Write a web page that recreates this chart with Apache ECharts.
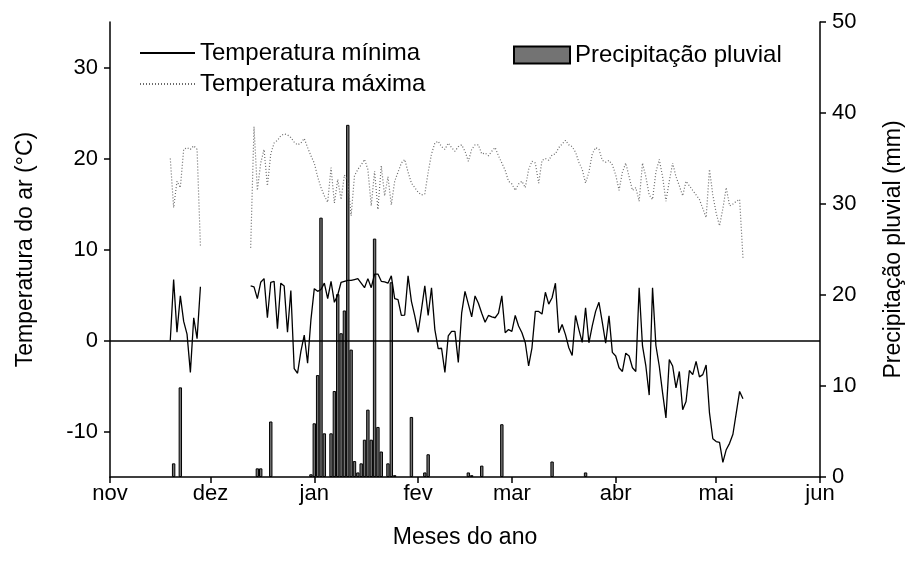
<!DOCTYPE html>
<html lang="pt">
<head>
    <meta charset="UTF-8"/>
    <title>Temperatura e precipitação</title>
    <style>
        * { margin: 0; padding: 0; }
        body { background: #fff; }
        #chart { width: 915px; height: 568px; }
    </style>
    <script src="https://cdn.jsdelivr.net/npm/echarts@6/dist/echarts.min.js"></script>
</head>
<body>
<div id="chart"></div>
<script>
    // dia 0 = 1 de novembro
    const monthStarts = [0, 30, 61, 92, 120, 151, 181, 212];
    const monthNames = ["nov", "dez", "jan", "fev", "mar", "abr", "mai", "jun"];
    const tempTicks = [-10, 0, 10, 20, 30];
    const rainTicks = [0, 10, 20, 30, 40, 50];

    const firstDay = 18;
    // temperatura mínima (°C), um valor por dia a partir de firstDay; null = sem dado
    const tMin = [
        0, 6.7, 0.9, 4.9, 2.1, 0.7, -3.5, 2.5, 0.2, 5.9,
        null, null, null, null, null, null, null, null, null, null, null, null, null, null,
        6.0, 5.9, 4.6, 6.4, 6.8, 2.5, 6.4, 6.5, 1.3, 6.3,
        6.0, 0.9, 5.5, -3.1, -3.6, -1.2, 0.6, -2.5, 2.3, 5.7,
        5.4, 5.6, 6.3, 4.6, 6.5, 4.2, 5.0, 6.4, 6.5, 6.6,
        6.6, 6.7, 6.8, 6.3, 5.8, 6.8, 5.8, 7.3, 7.3, 6.5,
        6.45, 6.3, 7.1, 4.6, 4.5, 2.75, 2.8, 7.1, 4.3, 2.7,
        0.9, 3.4, 6.0, 2.75, 5.8, 1.2, -0.9, -0.85, -3.5, 0.5,
        1.0, 1.0, -2.4, 3.0, 5.4, 4.0, 2.6, 4.9, 4.1, 3.0,
        2.0, 2.75, 2.6, 2.5, 3.0, 4.9, 0.85, 1.2, 1.0, 2.75,
        1.6, 0.85, -0.25, -2.8, -0.8, 3.2, 3.2, 2.9, 5.3, 4.0,
        4.7, 6.3, 0.85, 1.75, 0.65, -0.8, -1.65, 2.75, 1.2, -0.2,
        3.6, -0.25, 1.6, 3.2, 4.2, 2.0, -0.3, 2.7, -1.3, -1.7,
        -3.0, -3.4, -1.4, -1.7, -3.0, -3.4, 5.8, -0.6, -2.8, -6.0,
        5.8, -0.55, -2.8, -5.75, -8.5, -2.1, -2.8, -5.2, -3.4, -7.6,
        -6.7, -3.3, -3.75, -2.3, -4.0, -3.75, -2.7, -7.95, -10.8, -11.1,
        -11.2, -13.4, -12.0, -11.3, -10.3, -7.95, -5.6, -6.4
    ];
    // temperatura máxima (°C)
    const tMax = [
        20, 14.6, 17.5, 16.8, 21, 21.2, 21, 21.4, 21, 10.4,
        null, null, null, null, null, null, null, null, null, null, null, null, null, null,
        10.2, 23.5, 16.5, 19.5, 21, 17, 20.5, 21.7, 22, 22.5,
        22.7, 22.6, 22.3, 21.8, 21.5, 21.7, 22.2, 21.2, 20.3, 19.5,
        18.0, 16.8, 15.9, 15.2, 19.0, 15.1, 17.7, 15.5, 18.2, 17.5,
        13.7, 18.1, 18.8, 19.3, 19.9, 18.8, 14.8, 18.6, 14.4, 19.2,
        15.9, 18.0, 14.9, 17.5, 18.5, 19.5, 19.9, 18.5, 17.3, 16.8,
        16.3, 16.0, 16.1, 18.5, 20.5, 21.7, 21.9, 21.3, 21.0, 21.7,
        21.2, 20.8, 21.3, 21.5, 20.8, 19.7, 21, 21.5, 21.5, 20.5,
        20.6, 20.3, 20.8, 21.2, 20.3, 19.5, 18.7, 17.5, 17.2, 16.5,
        17.2, 17.5, 16.8, 18.8, 19.7, 19.5, 17.3, 19.8, 20, 19.8,
        20.4, 20.5, 21.2, 21.6, 22, 21.5, 21.3, 20.7, 19.6, 18.8,
        17.3, 18.5, 20.5, 21.2, 21.0, 19.8, 19.6, 19.8, 19.3, 18.2,
        16.5, 18.5, 19.5, 18.0, 16.5, 16.8, 15.3, 19.5, 18.0, 16.0,
        15.5, 18.5, 19.9, 18.0, 15.3, 17.5, 19.5, 18.0, 17.0, 15.9,
        17.5, 17.0, 16.5, 16.0, 15.5, 14.5, 13.5, 18.8, 16.0, 14.0,
        12.6, 14.5, 16.8, 14.8, 15.0, 15.3, 15.5, 9.1
    ];

    // precipitação pluvial (mm) nos dias com chuva
    const rainDays = [19, 21, 44, 45, 48, 60, 61, 62, 63, 64, 66, 67, 68, 69, 70, 71, 72, 73, 74, 75,
        76, 77, 78, 79, 80, 81, 83, 84, 85, 90, 94, 95, 107, 108, 111, 117, 132, 142];
    const rainMm = [1.5, 9.85, 0.95, 0.95, 6.1, 0.3, 5.9, 11.2, 28.5, 4.8, 4.8, 9.45, 20.1, 15.8, 18.3, 38.7, 14.0, 1.75, 0.5, 1.5,
        4.1, 7.4, 4.1, 26.2, 5.5, 2.8, 1.5, 21.4, 0.2, 6.6, 0.5, 2.5, 0.5, 0.2, 1.25, 5.8, 1.7, 0.5];

    const FONT = "Liberation Sans";
    const FS = 22;       // rótulos dos eixos
    const FS_NAME = 23;  // títulos dos eixos
    const FS_LEG = 24;   // legenda

    const toPairs = (arr) => arr.map((v, i) => [firstDay + i, v]);
    const tickStyle = {color: "#000", width: 1.5};

    const chart = echarts.init(document.getElementById("chart"));
    chart.setOption({
        animation: false,
        textStyle: {fontFamily: FONT, color: "#000"},
        grid: {left: 110, right: 95, top: 22, bottom: 91},
        legend: [
            {
                orient: "vertical",
                left: 134, top: 36,
                itemWidth: 55, itemHeight: 14, itemGap: 7,
                itemStyle: {opacity: 0},
                textStyle: {fontFamily: FONT, fontSize: FS_LEG, color: "#000"},
                data: ["Temperatura mínima", "Temperatura máxima"]
            },
            {
                left: 508, top: 38,
                icon: "rect",
                itemWidth: 56, itemHeight: 17,
                textStyle: {fontFamily: FONT, fontSize: FS_LEG, color: "#000"},
                data: ["Precipitação pluvial"]
            }
        ],
        xAxis: {
            type: "value",
            min: 0, max: 212,
            name: "Meses do ano",
            nameLocation: "middle",
            nameGap: 49,
            nameTextStyle: {fontSize: FS_NAME, color: "#000"},
            axisLine: {onZero: false, lineStyle: tickStyle},
            axisTick: {customValues: monthStarts, length: 6, lineStyle: tickStyle},
            axisLabel: {
                customValues: monthStarts,
                fontSize: FS, color: "#000", margin: 6,
                formatter: (v) => monthNames[monthStarts.indexOf(v)]
            },
            splitLine: {show: false}
        },
        yAxis: [
            {
                type: "value",
                min: -15, max: 35,
                position: "left",
                name: "Temperatura do ar (°C)",
                nameLocation: "middle",
                nameRotate: 90,
                nameGap: 73,
                nameTextStyle: {fontSize: FS_NAME, color: "#000"},
                axisLine: {show: true, onZero: false, lineStyle: tickStyle},
                axisTick: {show: true, customValues: tempTicks, length: 6, lineStyle: tickStyle},
                axisLabel: {customValues: tempTicks, fontSize: FS, color: "#000", margin: 12},
                splitLine: {show: false}
            },
            {
                type: "value",
                min: 0, max: 50,
                position: "right",
                name: "Precipitação pluvial (mm)",
                nameLocation: "middle",
                nameRotate: 90,
                nameGap: 62,
                nameTextStyle: {fontSize: FS_NAME, color: "#000"},
                axisLine: {show: true, onZero: false, lineStyle: tickStyle},
                axisTick: {show: true, customValues: rainTicks, length: 6, lineStyle: tickStyle},
                axisLabel: {customValues: rainTicks, fontSize: FS, color: "#000", margin: 12},
                splitLine: {show: false}
            }
        ],
        series: [
            {
                name: "Precipitação pluvial",
                type: "bar",
                yAxisIndex: 1,
                barWidth: 3.4,
                itemStyle: {color: "#737373", borderColor: "#000", borderWidth: 1},
                data: rainDays.map((d, i) => [d, rainMm[i]])
            },
            {
                name: "Temperatura mínima",
                type: "line",
                yAxisIndex: 0,
                symbol: "none",
                connectNulls: false,
                lineStyle: {color: "#000", width: 1.3},
                itemStyle: {color: "#000"},
                data: toPairs(tMin),
                markLine: {
                    silent: true,
                    symbol: "none",
                    label: {show: false},
                    lineStyle: {color: "#000", width: 1.5, type: "solid"},
                    data: [{yAxis: 0}]
                }
            },
            {
                name: "Temperatura máxima",
                type: "line",
                yAxisIndex: 0,
                symbol: "none",
                connectNulls: false,
                lineStyle: {color: "#6a6a6a", width: 1.2, type: [1, 2]},
                itemStyle: {color: "#6a6a6a"},
                data: toPairs(tMax)
            }
        ]
    });
</script>
</body>
</html>
